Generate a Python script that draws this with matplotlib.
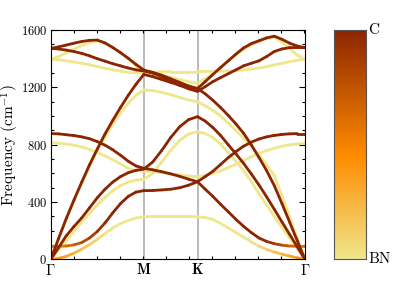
import numpy as np
import matplotlib
matplotlib.use("Agg")
import matplotlib.pyplot as plt
from matplotlib.collections import LineCollection
from matplotlib.colors import LinearSegmentedColormap, Normalize
from matplotlib.ticker import MultipleLocator, FixedLocator

plt.rcParams['mathtext.fontset'] = 'cm'
plt.rcParams['font.family'] = ['cmr10', 'DejaVu Serif']
plt.rcParams['axes.formatter.use_mathtext'] = True

# ---- data ----
k_path = [0.0, 0.0481, 0.0962, 0.1443, 0.1925, 0.2406, 0.2887, 0.3368, 0.3849,
          0.4330, 0.4811, 0.5292, 0.5774,
          0.6329, 0.6885, 0.7440, 0.7996, 0.8551, 0.9107,
          0.9583, 1.0059, 1.0535, 1.1011, 1.1488, 1.1964, 1.2440, 1.2916,
          1.3392, 1.3869, 1.4345, 1.4821, 1.5297, 1.5774]
tick_pos = [0.0, 0.5774, 0.9107, 1.5774]
tick_labels = [r'$\Gamma$', 'M', 'K', r'$\Gamma$']

c_la = [0, 145, 285, 415, 540, 660, 770, 875, 970, 1060, 1145, 1222, 1290,
        1275, 1255, 1235, 1215, 1200, 1192,
        1155, 1110, 1060, 1005, 945, 880, 800, 712, 620, 515, 390, 260, 130, 0]
bn_la = [0, 142, 280, 408, 530, 648, 760, 855, 940, 1020, 1090, 1145, 1182,
         1178, 1165, 1150, 1130, 1112, 1100,
         1072, 1040, 1000, 950, 900, 845, 790, 728, 660, 585, 445, 300, 150, 0]
c_ta = [0, 82, 165, 230, 290, 360, 430, 490, 540, 578, 605, 622, 630,
        680, 760, 850, 925, 975, 996,
        965, 920, 865, 800, 737, 670, 597, 520, 437, 350, 262, 175, 88, 0]
bn_ta = [0, 65, 130, 195, 260, 320, 380, 432, 480, 515, 540, 553, 559,
         600, 680, 760, 830, 875, 891,
         878, 850, 805, 745, 685, 620, 542, 460, 380, 300, 225, 150, 75, 0]
c_za = [92, 92, 94, 102, 118, 150, 195, 255, 325, 390, 440, 470, 480,
        481, 485, 490, 500, 518, 542,
        490, 440, 385, 333, 280, 231, 188, 150, 126, 110, 100, 94, 92, 92]
bn_za = [0, 8, 22, 44, 72, 104, 140, 180, 220, 250, 272, 289, 298,
         300, 300, 300, 300, 300, 298,
         293, 278, 252, 220, 188, 156, 123, 93, 70, 52, 37, 24, 11, 0]
c_zo = [878, 876, 870, 864, 855, 842, 822, 797, 765, 727, 685, 652, 636,
        625, 612, 597, 580, 560, 542,
        578, 615, 662, 710, 752, 790, 818, 840, 855, 865, 872, 876, 878, 878]
bn_zo = [814, 811, 805, 797, 785, 768, 745, 722, 696, 667, 636, 620, 615,
         612, 605, 598, 590, 582, 577,
         586, 600, 618, 640, 665, 690, 716, 740, 760, 775, 790, 800, 806, 810]
c_to = [1472, 1468, 1460, 1450, 1437, 1420, 1400, 1383, 1365, 1350, 1335, 1322, 1314,
        1300, 1275, 1245, 1215, 1190, 1172,
        1205, 1240, 1268, 1295, 1322, 1350, 1368, 1385, 1415, 1450, 1468, 1477, 1478, 1477]
c_lo = [1472, 1482, 1495, 1508, 1520, 1528, 1530, 1510, 1478, 1442, 1403, 1360, 1321,
        1305, 1285, 1260, 1235, 1210, 1192,
        1240, 1290, 1338, 1385, 1432, 1475, 1505, 1525, 1545, 1557, 1535, 1508, 1488, 1477]
bn_to = [1396, 1392, 1385, 1377, 1368, 1357, 1345, 1333, 1322, 1313, 1305, 1301, 1300,
         1305, 1308, 1310, 1310, 1310, 1310,
         1311, 1312, 1313, 1315, 1318, 1322, 1328, 1335, 1345, 1357, 1368, 1379, 1389, 1396]
bn_lo = [1396, 1415, 1440, 1466, 1492, 1512, 1525, 1508, 1480, 1442, 1400, 1350, 1300,
         1295, 1285, 1270, 1255, 1240, 1228,
         1260, 1295, 1340, 1385, 1428, 1465, 1495, 1520, 1540, 1550, 1515, 1470, 1425, 1396]

# carbon weight (1 = C, 0 = BN)
c_za_w = [0.55, 0.55, 0.6, 0.68, 0.75, 0.83, 0.9, 0.95, 1, 1, 1, 1, 1,
          1, 1, 1, 1, 1, 1,
          1, 1, 1, 1, 1, 1, 1, 1, 0.95, 0.9, 0.8, 0.7, 0.62, 0.55]
bn_za_w = [0.45, 0.42, 0.35, 0.28, 0.2, 0.13, 0.08, 0.04, 0, 0, 0, 0, 0,
           0, 0, 0, 0, 0, 0,
           0, 0, 0, 0, 0, 0, 0, 0.05, 0.1, 0.15, 0.22, 0.3, 0.38, 0.45]

cmap = LinearSegmentedColormap.from_list(
    'cbn', [(0.0, '#f0e68c'), (0.45, '#ff8c00'), (1.0, '#8b2500')])
norm = Normalize(0, 1)

fig = plt.figure(figsize=(4.07, 3.05), dpi=100)
ax = fig.add_axes([0.1246, 0.1492, 0.6248, 0.7524])

for xv in tick_pos[1:3]:
    ax.axvline(xv, color='#a8a8a8', lw=1.1, zorder=1)

k = np.array(k_path)

def draw(vals, w):
    y = np.array(vals, float)
    w = np.broadcast_to(np.array(w, float), y.shape)
    pts = np.column_stack([k, y]).reshape(-1, 1, 2)
    segs = np.concatenate([pts[:-1], pts[1:]], axis=1)
    cw = 0.5 * (w[:-1] + w[1:])
    lc = LineCollection(segs, colors=cmap(norm(cw)), linewidths=2.0,
                        capstyle='round', joinstyle='round', zorder=2)
    ax.add_collection(lc)

for br, w in [(bn_za, bn_za_w), (bn_ta, 0.0), (bn_la, 0.0), (bn_zo, 0.0),
              (bn_to, 0.0), (bn_lo, 0.0)]:
    draw(br, w)
for br, w in [(c_za, c_za_w), (c_ta, 1.0), (c_la, 1.0), (c_zo, 1.0),
              (c_to, 1.0), (c_lo, 1.0)]:
    draw(br, w)

ax.set_xlim(tick_pos[0], tick_pos[-1])
ax.set_ylim(0, 1600)
ax.xaxis.set_major_locator(FixedLocator(tick_pos))
ax.set_xticklabels(tick_labels)
for lab in ax.get_xticklabels():
    if lab.get_text() in ('M', 'K'):
        lab.set_fontfamily('cmb10')
ax.xaxis.set_minor_locator(MultipleLocator(0.1427))
ax.yaxis.set_major_locator(MultipleLocator(400))
ax.yaxis.set_minor_locator(MultipleLocator(100))
ax.tick_params(which='both', direction='in', top=True, right=True, width=0.8)
ax.tick_params(axis='y', labelsize=9, pad=2.5)
ax.tick_params(axis='x', labelsize=10.5)
ax.tick_params(which='major', length=4)
ax.tick_params(which='minor', length=2.5)
ax.tick_params(axis='x', which='major', length=0, pad=2.5)
ax.set_ylabel(r'Frequency (cm$^{-1}$)', fontsize=11)
ax.yaxis.set_label_coords(-0.118, 0.5)

cax = fig.add_axes([0.8206, 0.1492, 0.0786, 0.7524])
grad = np.linspace(0, 1, 256).reshape(-1, 1)
cax.imshow(grad, aspect='auto', cmap=cmap, origin='lower', extent=[0, 1, 0, 1])
cax.set_xticks([])
cax.set_yticks([])
for s in cax.spines.values():
    s.set_color('#555555')
    s.set_linewidth(0.8)
fig.text(0.905, 0.9016, 'C', fontsize=11, va='center', ha='left')
fig.text(0.905, 0.1492, 'BN', fontsize=11, va='center', ha='left')

fig.savefig('out.png', dpi=100)
